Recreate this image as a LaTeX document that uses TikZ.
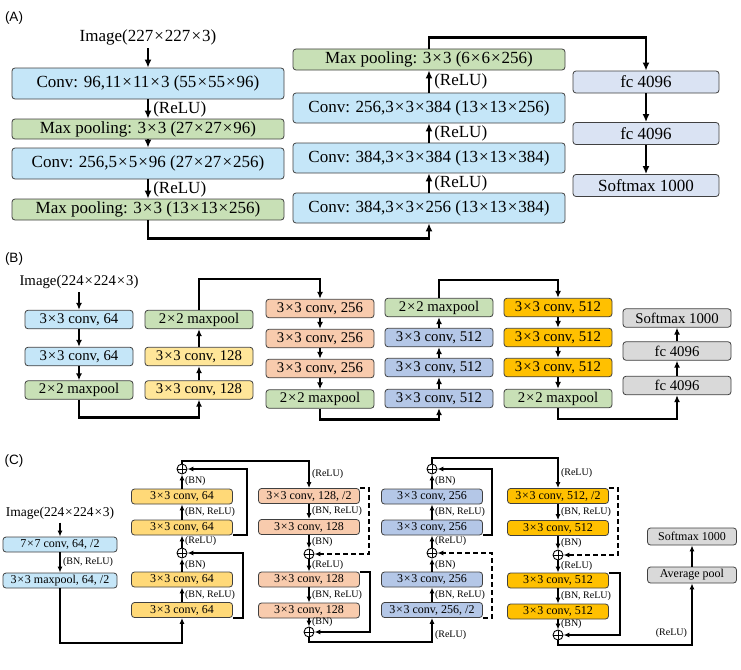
\documentclass[tikz,border=0pt]{standalone}
\usepackage{fontspec}
\setmainfont{Liberation Serif}
\newfontfamily\panelfont{Liberation Sans}
\usetikzlibrary{arrows.meta,positioning,calc}
\definecolor{aBlue}{HTML}{C5E6F8}
\definecolor{aGreen}{HTML}{C8E0B6}
\definecolor{fcBlue}{HTML}{DAE3F3}
\definecolor{bYellow}{HTML}{FFE699}
\definecolor{bSalmon}{HTML}{F8CBAD}
\definecolor{bPeri}{HTML}{B4C7E7}
\definecolor{bGold}{HTML}{FFC000}
\definecolor{bGray}{HTML}{D9D9D9}
\definecolor{cYellow}{HTML}{FFD978}
\newcommand{\tms}{\kern0.06em×\kern0.06em}
\newcommand{\fs}[1]{\fontsize{#1}{#1}\selectfont}
\tikzset{
	box/.style={draw=black!75, rounded corners=3pt, inner sep=0pt, line width=0.8pt},
	abox/.style={box, minimum width=272pt, font=\fs{17}},
	fcbox/.style={box, fill=fcBlue, minimum width=146pt, minimum height=22pt, font=\fs{17}},
	bbox/.style={box, minimum width=108pt, minimum height=18.5pt, font=\fs{14.8}},
	cbox/.style={box, minimum width=101pt, minimum height=15pt, font=\fs{12}},
	panel/.style={font=\panelfont\fs{13.5}, inner sep=0pt},
	sumnode/.style={circle, draw, line width=0.9pt, minimum size=10pt, inner sep=0pt,
		path picture={\draw[line width=0.8pt] (path picture bounding box.north) -- (path picture bounding box.south)
			(path picture bounding box.west) -- (path picture bounding box.east);}},
	aline/.style={line width=2.6pt, -{Latex[length=8pt,width=7pt]}},
	bline/.style={line width=2.4pt, -{Latex[length=7pt,width=6pt]}},
	cline/.style={line width=2pt, -{Latex[length=6pt,width=5pt]}},
	cdash/.style={cline, dash pattern=on 5pt off 3pt},
	alab/.style={right=4pt, font=\fs{17}, inner sep=0pt},
	clab/.style={right=2pt, font=\fs{10}, inner sep=0pt}
}

\begin{document}
\begin{tikzpicture}[x=1pt,y=-1pt]
	\useasboundingbox (0,0) rectangle (741,669);
	% (A)
	\node[panel] (pa) at (14,18) {(A)};
	\node[font=\fs{17}] (imga) at (148,37) {Image(227\tms227\tms3)};
	\node[abox, fill=aBlue, minimum height=31pt] (a1) at (148,83.5) {Conv: 96,11\tms11\tms3 (55\tms55\tms96)};
	\node[abox, fill=aGreen, minimum height=20pt] (a2) at (148,129) {Max pooling: 3\tms3 (27\tms27\tms96)};
	\node[abox, fill=aBlue, minimum height=31pt] (a3) at (148,163.5) {Conv: 256,5\tms5\tms96 (27\tms27\tms256)};
	\node[abox, fill=aGreen, minimum height=21pt] (a4) at (148,209.5) {Max pooling: 3\tms3 (13\tms13\tms256)};
	\node[abox, fill=aBlue, minimum height=30pt] (a5) at (429,208) {Conv: 384,3\tms3\tms256 (13\tms13\tms384)};
	\node[abox, fill=aBlue, minimum height=30pt] (a6) at (429,158) {Conv: 384,3\tms3\tms384 (13\tms13\tms384)};
	\node[abox, fill=aBlue, minimum height=30pt] (a7) at (429,108) {Conv: 256,3\tms3\tms384 (13\tms13\tms256)};
	\node[abox, fill=aGreen, minimum height=21pt] (a8) at (429,59.5) {Max pooling: 3\tms3 (6\tms6\tms256)};
	\node[fcbox] (fc1) at (646,82) {fc 4096};
	\node[fcbox] (fc2) at (646,133.5) {fc 4096};
	\node[fcbox] (sma) at (646,185.5) {Softmax 1000};
	
	\draw[aline] (imga) -- (a1);
	\draw[aline] (a1) -- node[alab] (ra1) {(ReLU)} (a2);
	\draw[aline] (a2) -- (a3);
	\draw[aline] (a3) -- node[alab] (ra2) {(ReLU)} (a4);
	\draw[aline] (a4.south) -- ++(0,18) -| (a5.south);
	\draw[aline] (a5) -- node[alab] (ra3) {(ReLU)} (a6);
	\draw[aline] (a6) -- node[alab] (ra4) {(ReLU)} (a7);
	\draw[aline] (a7) -- node[alab] (ra5) {(ReLU)} (a8);
	\draw[aline] (a8.north) -- ++(0,-11) -| (fc1.north);
	\draw[aline] (fc1) -- (fc2);
	\draw[aline] (fc2) -- (sma);
	
	% (B)
	\node[panel] (pb) at (14,259) {(B)};
	\node[font=\fs{14.8}] (imgb) at (79,282) {Image(224\tms224\tms3)};
	\node[bbox, fill=aBlue] (b11) at (79,319.5) {3\tms3 conv, 64};
	\node[bbox, fill=aBlue] (b12) at (79,356.5) {3\tms3 conv, 64};
	\node[bbox, fill=aGreen] (b13) at (79,390) {2\tms2 maxpool};
	\node[bbox, fill=aGreen] (b21) at (199,319.5) {2\tms2 maxpool};
	\node[bbox, fill=bYellow] (b22) at (199,356.5) {3\tms3 conv, 128};
	\node[bbox, fill=bYellow] (b23) at (199,390) {3\tms3 conv, 128};
	\node[bbox, fill=bSalmon] (b31) at (320,308.5) {3\tms3 conv, 256};
	\node[bbox, fill=bSalmon] (b32) at (320,338.5) {3\tms3 conv, 256};
	\node[bbox, fill=bSalmon] (b33) at (320,368.5) {3\tms3 conv, 256};
	\node[bbox, fill=aGreen] (b34) at (320,399) {2\tms2 maxpool};
	\node[bbox, fill=aGreen] (b41) at (439,307.5) {2\tms2 maxpool};
	\node[bbox, fill=bPeri] (b42) at (439,337.5) {3\tms3 conv, 512};
	\node[bbox, fill=bPeri] (b43) at (439,367.5) {3\tms3 conv, 512};
	\node[bbox, fill=bPeri] (b44) at (439,398.5) {3\tms3 conv, 512};
	\node[bbox, fill=bGold] (b51) at (558,307.5) {3\tms3 conv, 512};
	\node[bbox, fill=bGold] (b52) at (558,337.5) {3\tms3 conv, 512};
	\node[bbox, fill=bGold] (b53) at (558,367.5) {3\tms3 conv, 512};
	\node[bbox, fill=aGreen] (b54) at (558,398.5) {2\tms2 maxpool};
	\node[bbox, fill=bGray] (b61) at (677,318) {Softmax 1000};
	\node[bbox, fill=bGray] (b62) at (677,351) {fc 4096};
	\node[bbox, fill=bGray] (b63) at (677,385.5) {fc 4096};
	
	\draw[bline] (imgb) -- (b11);
	\draw[bline] (b11) -- (b12);
	\draw[bline] (b12) -- (b13);
	\draw[bline] (b13.south) -- ++(0,18) -| (b23.south);
	\draw[bline] (b23) -- (b22);
	\draw[bline] (b22) -- (b21);
	\draw[bline] (b21.north) -- ++(0,-31) -| (b31.north);
	\draw[bline] (b31) -- (b32);
	\draw[bline] (b32) -- (b33);
	\draw[bline] (b33) -- (b34);
	\draw[bline] (b34.south) -- ++(0,11) -| (b44.south);
	\draw[bline] (b44) -- (b43);
	\draw[bline] (b43) -- (b42);
	\draw[bline] (b42) -- (b41);
	\draw[bline] (b41.north) -- ++(0,-18) -| (b51.north);
	\draw[bline] (b51) -- (b52);
	\draw[bline] (b52) -- (b53);
	\draw[bline] (b53) -- (b54);
	\draw[bline] (b54.south) -- ++(0,11) -| (b63.south);
	\draw[bline] (b63) -- (b62);
	\draw[bline] (b62) -- (b61);
	
	% (C)
	\node[panel] (pc) at (14,461) {(C)};
	\node[font=\fs{13.5}] (imgc) at (60,513) {Image(224\tms224\tms3)};
	\node[cbox, fill=aBlue, minimum width=114pt] (c1) at (60,544.5) {7\tms7 conv, 64, /2};
	\node[cbox, fill=aBlue, minimum width=114pt] (c2) at (60,580.5) {3\tms3 maxpool, 64, /2};
	% yellow stage, bottom to top
	\node[cbox, fill=cYellow] (y4) at (182,610) {3\tms3 conv, 64};
	\node[cbox, fill=cYellow] (y3) at (182,579.5) {3\tms3 conv, 64};
	\node[sumnode] (s1) at (182,553) {};
	\node[cbox, fill=cYellow] (y2) at (182,527.5) {3\tms3 conv, 64};
	\node[cbox, fill=cYellow] (y1) at (182,496.5) {3\tms3 conv, 64};
	\node[sumnode] (s2) at (182,469) {};
	% salmon stage, top to bottom
	\node[cbox, fill=bSalmon] (o1) at (309,496) {3\tms3 conv, 128, /2};
	\node[cbox, fill=bSalmon] (o2) at (309,527) {3\tms3 conv, 128};
	\node[sumnode] (s3) at (309,554) {};
	\node[cbox, fill=bSalmon] (o3) at (309,579.5) {3\tms3 conv, 128};
	\node[cbox, fill=bSalmon] (o4) at (309,610.5) {3\tms3 conv, 128};
	\node[sumnode] (s4) at (309,632) {};
	% blue stage, bottom to top
	\node[cbox, fill=bPeri] (u4) at (432,610) {3\tms3 conv, 256, /2};
	\node[cbox, fill=bPeri] (u3) at (432,579.5) {3\tms3 conv, 256};
	\node[sumnode] (s5) at (432,553) {};
	\node[cbox, fill=bPeri] (u2) at (432,527.5) {3\tms3 conv, 256};
	\node[cbox, fill=bPeri] (u1) at (432,496.5) {3\tms3 conv, 256};
	\node[sumnode] (s6) at (432,469) {};
	% gold stage, top to bottom
	\node[cbox, fill=bGold] (g1) at (558,496) {3\tms3 conv, 512, /2};
	\node[cbox, fill=bGold] (g2) at (558,528) {3\tms3 conv, 512};
	\node[sumnode] (s7) at (558,555) {};
	\node[cbox, fill=bGold] (g3) at (558,580.5) {3\tms3 conv, 512};
	\node[cbox, fill=bGold] (g4) at (558,611.5) {3\tms3 conv, 512};
	\node[sumnode] (s8) at (558,635) {};
	\node[cbox, fill=bGray, minimum width=89pt, minimum height=16pt] (avg) at (692,575) {Average pool};
	\node[cbox, fill=bGray, minimum width=89pt, minimum height=17pt] (smc) at (692,536.5) {Softmax 1000};
	
	\draw[cline] (imgc) -- (c1);
	\draw[cline] (c1) -- node[clab] (l1) {(BN, ReLU)} (c2);
	\draw[cline] (c2.south) -- ++(0,55) -| (y4.south);
	
	\draw[cline] (y4) -- node[clab] (l2) {(BN, ReLU)} (y3);
	\draw[cline] (y3) -- node[clab] (l3) {(BN)} (s1);
	\draw[cline] (s1) -- node[clab] (l4) {(ReLU)} (y2);
	\draw[cline] (y2) -- node[clab] (l5) {(BN, ReLU)} (y1);
	\draw[cline] (y1) -- node[clab] (l6) {(BN)} (s2);
	\draw[cline] (y4.south east) -- ++(10,0) |- (s1);
	\draw[cline] (y2.south east) -- ++(14,0) |- (s2);
	\draw[cline] (s2.north) -- ++(0,-3) -| node[clab, pos=0.75] (l7) {(ReLU)} (o1.north);
	
	\draw[cline] (o1) -- node[clab] (l8) {(BN, ReLU)} (o2);
	\draw[cline] (o2) -- node[clab] (l9) {(BN)} (s3);
	\draw[cline] (s3) -- node[clab] (l10) {(ReLU)} (o3);
	\draw[cline] (o3) -- node[clab] (l11) {(BN, ReLU)} (o4);
	\draw[cline] (o4) -- node[clab] (l12) {(BN)} (s4);
	\draw[cdash] (o1.north east) -- ++(9,0) |- (s3);
	\draw[cline] (o3.north east) -- ++(10,0) |- (s4);
	\draw[cline] (s4.south) -- ++(0,5) -| node[clab, pos=0.66] (l13) {(ReLU)} (u4.south);
	
	\draw[cline] (u4) -- node[clab] (l14) {(BN, ReLU)} (u3);
	\draw[cline] (u3) -- node[clab] (l15) {(BN)} (s5);
	\draw[cline] (s5) -- node[clab] (l16) {(ReLU)} (u2);
	\draw[cline] (u2) -- node[clab] (l17) {(BN, ReLU)} (u1);
	\draw[cline] (u1) -- node[clab] (l18) {(BN)} (s6);
	\draw[cdash] (u4.south east) -- ++(9,0) |- (s5);
	\draw[cline] (u2.south east) -- ++(9,0) |- (s6);
	\draw[cline] (s6.north) -- ++(0,-6) -| node[clab, pos=0.75] (l19) {(ReLU)} (g1.north);
	
	\draw[cline] (g1) -- node[clab] (l20) {(BN, ReLU)} (g2);
	\draw[cline] (g2) -- node[clab] (l21) {(BN)} (s7);
	\draw[cline] (s7) -- node[clab] (l22) {(ReLU)} (g3);
	\draw[cline] (g3) -- node[clab] (l23) {(BN, ReLU)} (g4);
	\draw[cline] (g4) -- node[clab] (l24) {(BN)} (s8);
	\draw[cdash] (g1.north east) -- ++(9,0) |- (s7);
	\draw[cline] (g3.north east) -- ++(11,0) |- (s8);
	\draw[cline] (s8.south) -- ++(0,5) -| node[clab, left=4pt, pos=0.6] (l25) {(ReLU)} (avg.south);
	\draw[cline] (avg) -- (smc);
\end{tikzpicture}
\end{document}
